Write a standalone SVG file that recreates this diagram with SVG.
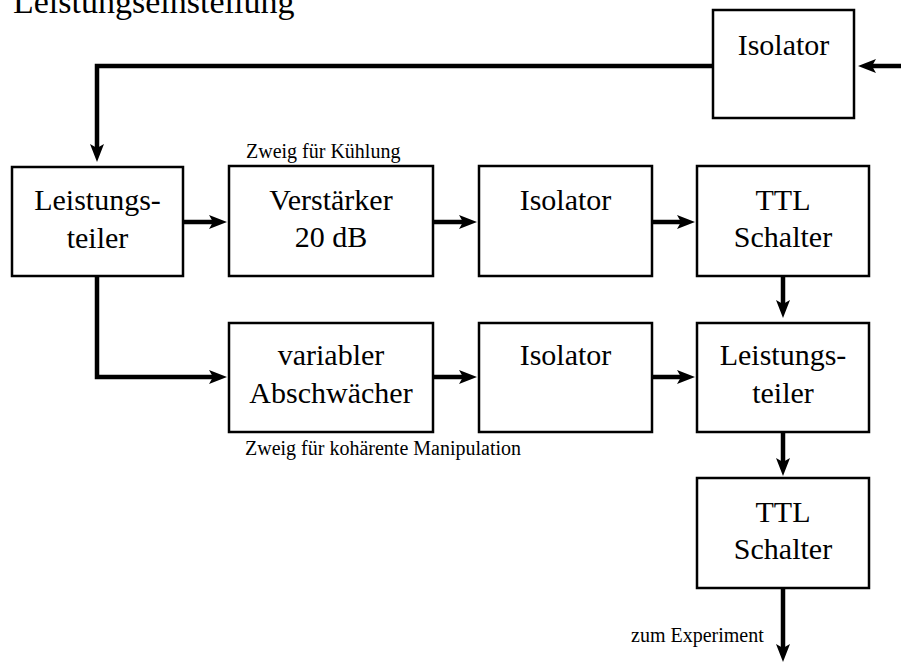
<svg xmlns="http://www.w3.org/2000/svg" width="901" height="666" viewBox="0 0 901 666">
  <defs>
    <style>
      .box { fill: #ffffff; stroke: #000000; stroke-width: 2.5; }
      text { font-family: 'Liberation Serif', 'Times New Roman', serif; fill: #000000; }
      .lbl { font-size: 30px; text-anchor: middle; }
      .note { font-size: 20px; }
      .title { font-size: 34px; }
      .wire { fill: none; stroke: #000000; stroke-width: 4.5; marker-end: url(#head); }
    </style>
    <!-- arrowhead: tip sits 10px past the end of the wire -->
    <marker id="head" markerUnits="userSpaceOnUse" markerWidth="20" markerHeight="16" refX="8" refY="7" orient="auto">
      <path d="M0,0 L18,7 L0,14 L4,7 Z" fill="#000000"/>
    </marker>
  </defs>

  <rect width="901" height="666" fill="#ffffff"/>

  <text class="title" x="13" y="13">Leistungseinstellung</text>

  <!-- connectors -->
  <g id="connectors">
    <path class="wire" d="M901,66 L868,66"/>
    <path class="wire" d="M713,66 L97,66 L97,152"/>
    <path class="wire" d="M183,222 L217,222"/>
    <path class="wire" d="M433,222 L467,222"/>
    <path class="wire" d="M652,222 L685,222"/>
    <path class="wire" d="M97,276 L97,377 L217,377"/>
    <path class="wire" d="M433,377 L467,377"/>
    <path class="wire" d="M652,377 L685,377"/>
    <path class="wire" d="M783,276 L783,308"/>
    <path class="wire" d="M783,432 L783,466"/>
    <path class="wire" d="M783,588 L783,652"/>
  </g>

  <!-- nodes -->
  <g id="isolator-in">
    <rect class="box" x="713" y="10" width="141" height="108"/>
    <text class="lbl" x="783.5" y="55">Isolator</text>
  </g>

  <g id="teiler-1">
    <rect class="box" x="12" y="167" width="171" height="109"/>
    <text class="lbl" x="97.5" y="210">Leistungs-</text>
    <text class="lbl" x="97.5" y="248">teiler</text>
  </g>

  <g id="verstaerker">
    <rect class="box" x="229" y="166" width="204" height="110"/>
    <text class="lbl" x="331" y="210">Verstärker</text>
    <text class="lbl" x="331" y="247">20 dB</text>
  </g>

  <g id="isolator-1">
    <rect class="box" x="479" y="166" width="173" height="110"/>
    <text class="lbl" x="565.5" y="210">Isolator</text>
  </g>

  <g id="ttl-1">
    <rect class="box" x="697" y="166" width="172" height="110"/>
    <text class="lbl" x="783" y="210">TTL</text>
    <text class="lbl" x="783" y="247">Schalter</text>
  </g>

  <g id="abschwaecher">
    <rect class="box" x="229" y="323" width="204" height="109"/>
    <text class="lbl" x="331" y="365">variabler</text>
    <text class="lbl" x="331" y="403">Abschwächer</text>
  </g>

  <g id="isolator-2">
    <rect class="box" x="479" y="323" width="173" height="109"/>
    <text class="lbl" x="565.5" y="365">Isolator</text>
  </g>

  <g id="teiler-2">
    <rect class="box" x="697" y="323" width="172" height="109"/>
    <text class="lbl" x="783" y="365">Leistungs-</text>
    <text class="lbl" x="783" y="403">teiler</text>
  </g>

  <g id="ttl-2">
    <rect class="box" x="697" y="478" width="172" height="110"/>
    <text class="lbl" x="783" y="522">TTL</text>
    <text class="lbl" x="783" y="559">Schalter</text>
  </g>

  <!-- branch notes -->
  <text class="note" x="246" y="158">Zweig für Kühlung</text>
  <text class="note" x="245" y="455">Zweig für kohärente Manipulation</text>
  <text class="note" x="631" y="642">zum Experiment</text>
</svg>
